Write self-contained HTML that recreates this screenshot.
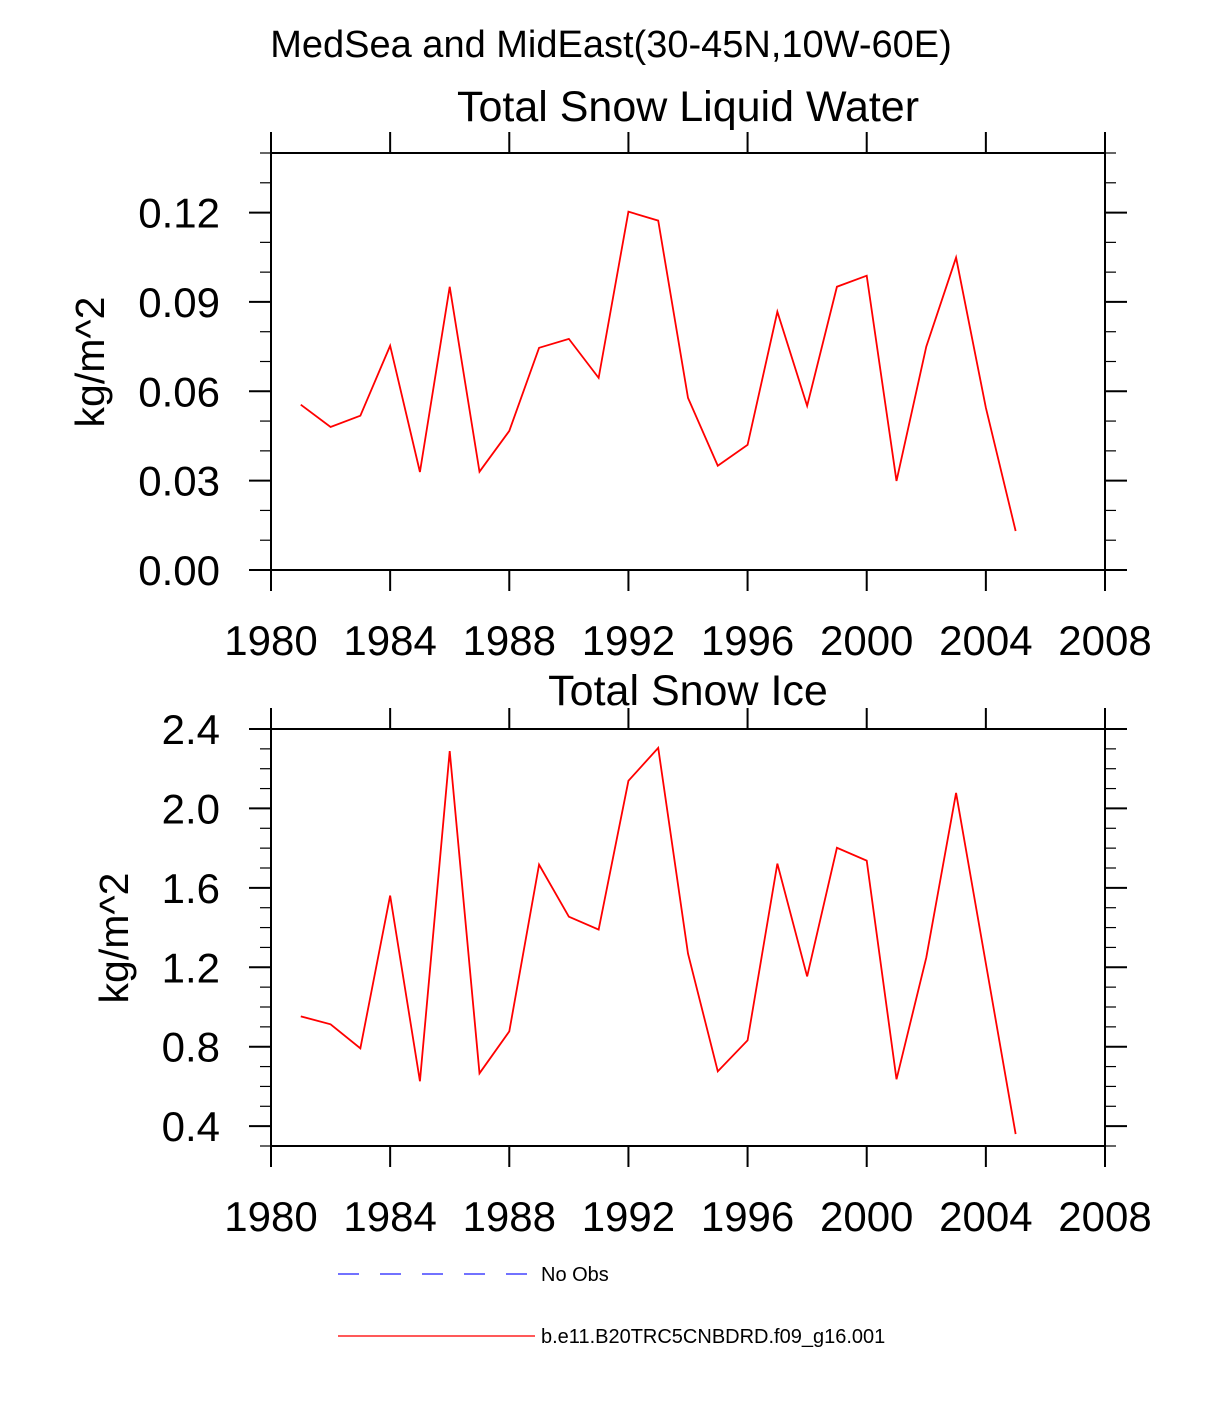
<!DOCTYPE html>
<html><head><meta charset="utf-8"><style>body{margin:0;background:#fff}svg{display:block}text{font-family:"Liberation Sans",sans-serif}</style></head>
<body>
<svg id="s" width="1224" height="1404">
<text x="611" y="57" font-size="38" text-anchor="middle">MedSea and MidEast(30-45N,10W-60E)</text>
<text x="688" y="121" font-size="43" text-anchor="middle">Total Snow Liquid Water</text>
<text x="688" y="705" font-size="43" text-anchor="middle">Total Snow Ice</text>
<text transform="translate(104,362) rotate(-90)" font-size="41" text-anchor="middle">kg/m^2</text>
<text transform="translate(128,938) rotate(-90)" font-size="41" text-anchor="middle">kg/m^2</text>
<line x1="338" y1="1274" x2="527" y2="1274" stroke="#4444ff" stroke-width="1.5" stroke-dasharray="21,21"/>
<text x="541" y="1281" font-size="20">No Obs</text>
<line x1="338" y1="1336" x2="535" y2="1336" stroke="#ff2222" stroke-width="1.5"/>
<text x="541" y="1343" font-size="20">b.e11.B20TRC5CNBDRD.f09_g16.001</text>
</svg>
<script>
const years=[1981,1982,1983,1984,1985,1986,1987,1988,1989,1990,1991,1992,1993,1994,1995,1996,1997,1998,1999,2000,2001,2002,2003,2004,2005];
const liquidWater=[0.0555,0.048,0.0518,0.0753,0.0329,0.0951,0.033,0.0467,0.0746,0.0776,0.0645,0.1203,0.1173,0.0578,0.035,0.042,0.0867,0.0551,0.0951,0.0988,0.0299,0.075,0.1049,0.0545,0.0131];
const snowIce=[0.953,0.913,0.792,1.561,0.626,2.289,0.666,0.877,1.717,1.455,1.39,2.139,2.305,1.269,0.676,0.832,1.722,1.154,1.802,1.737,0.636,1.249,2.078,1.219,0.36];
const xTicks=[1980,1984,1988,1992,1996,2000,2004,2008];
const topYTicks=["0.00","0.03","0.06","0.09","0.12"];
const botYTicks=["0.4","0.8","1.2","1.6","2.0","2.4"];
const svg=document.getElementById('s');const NS='http://www.w3.org/2000/svg';
function mk(t,a,p){const e=document.createElementNS(NS,t);for(const k in a)e.setAttribute(k,a[k]);(p||svg).appendChild(e);return e;}
const L=271,R=1105;
const xs=v=>L+(v-1980)/(2008-1980)*(R-L);
function panel(name,top,bot,ymin,ymax,minorStep,yTicks,data){
 const g=mk('g',{});
 
 
 const ys=v=>bot-(v-ymin)/(ymax-ymin)*(bot-top);
 const fr=mk('rect',{x:L,y:top,width:R-L,height:bot-top,fill:'none',stroke:'#000','stroke-width':2},g);
 
 
 const n=Math.round((ymax-ymin)/minorStep);
 for(let i=0;i<=n;i++){const v=ymin+i*minorStep,y=ys(v);
  const ln=mk('line',{x1:L-11,x2:L,y1:y,y2:y,stroke:'#000','stroke-width':1.2},g);
  
  
  const rn=mk('line',{x1:R,x2:R+11,y1:y,y2:y,stroke:'#000','stroke-width':1.2},g);
  
  }
 yTicks.forEach(t=>{const y=ys(parseFloat(t));
  const a=mk('line',{x1:L-22,x2:L,y1:y,y2:y,stroke:'#000','stroke-width':2},g);
  
  
  const b=mk('line',{x1:R,x2:R+22,y1:y,y2:y,stroke:'#000','stroke-width':2},g);
  
  
  const tx=mk('text',{x:L-51,y:y+15,'font-size':42,'text-anchor':'end'},g);tx.textContent=t;
  
  });
 xTicks.forEach(t=>{const x=xs(t);
  const a=mk('line',{x1:x,x2:x,y1:top-21,y2:top,stroke:'#000','stroke-width':2},g);
  
  
  const b=mk('line',{x1:x,x2:x,y1:bot,y2:bot+21,stroke:'#000','stroke-width':2},g);
  
  
  const tx=mk('text',{x:x,y:bot+85,'font-size':42,'text-anchor':'middle'},g);tx.textContent=t;
  
  });
 const pl=mk('polyline',{points:data.map((v,i)=>xs(years[i])+','+ys(v)).join(' '),fill:'none',stroke:'#ff0000','stroke-width':1.8},g);
 
 
}
panel('liquid-water-panel',153,570,0,0.14,0.01,topYTicks,liquidWater);
panel('snow-ice-panel',729,1146,0.3,2.4,0.1,botYTicks,snowIce);
</script>
</body></html>
